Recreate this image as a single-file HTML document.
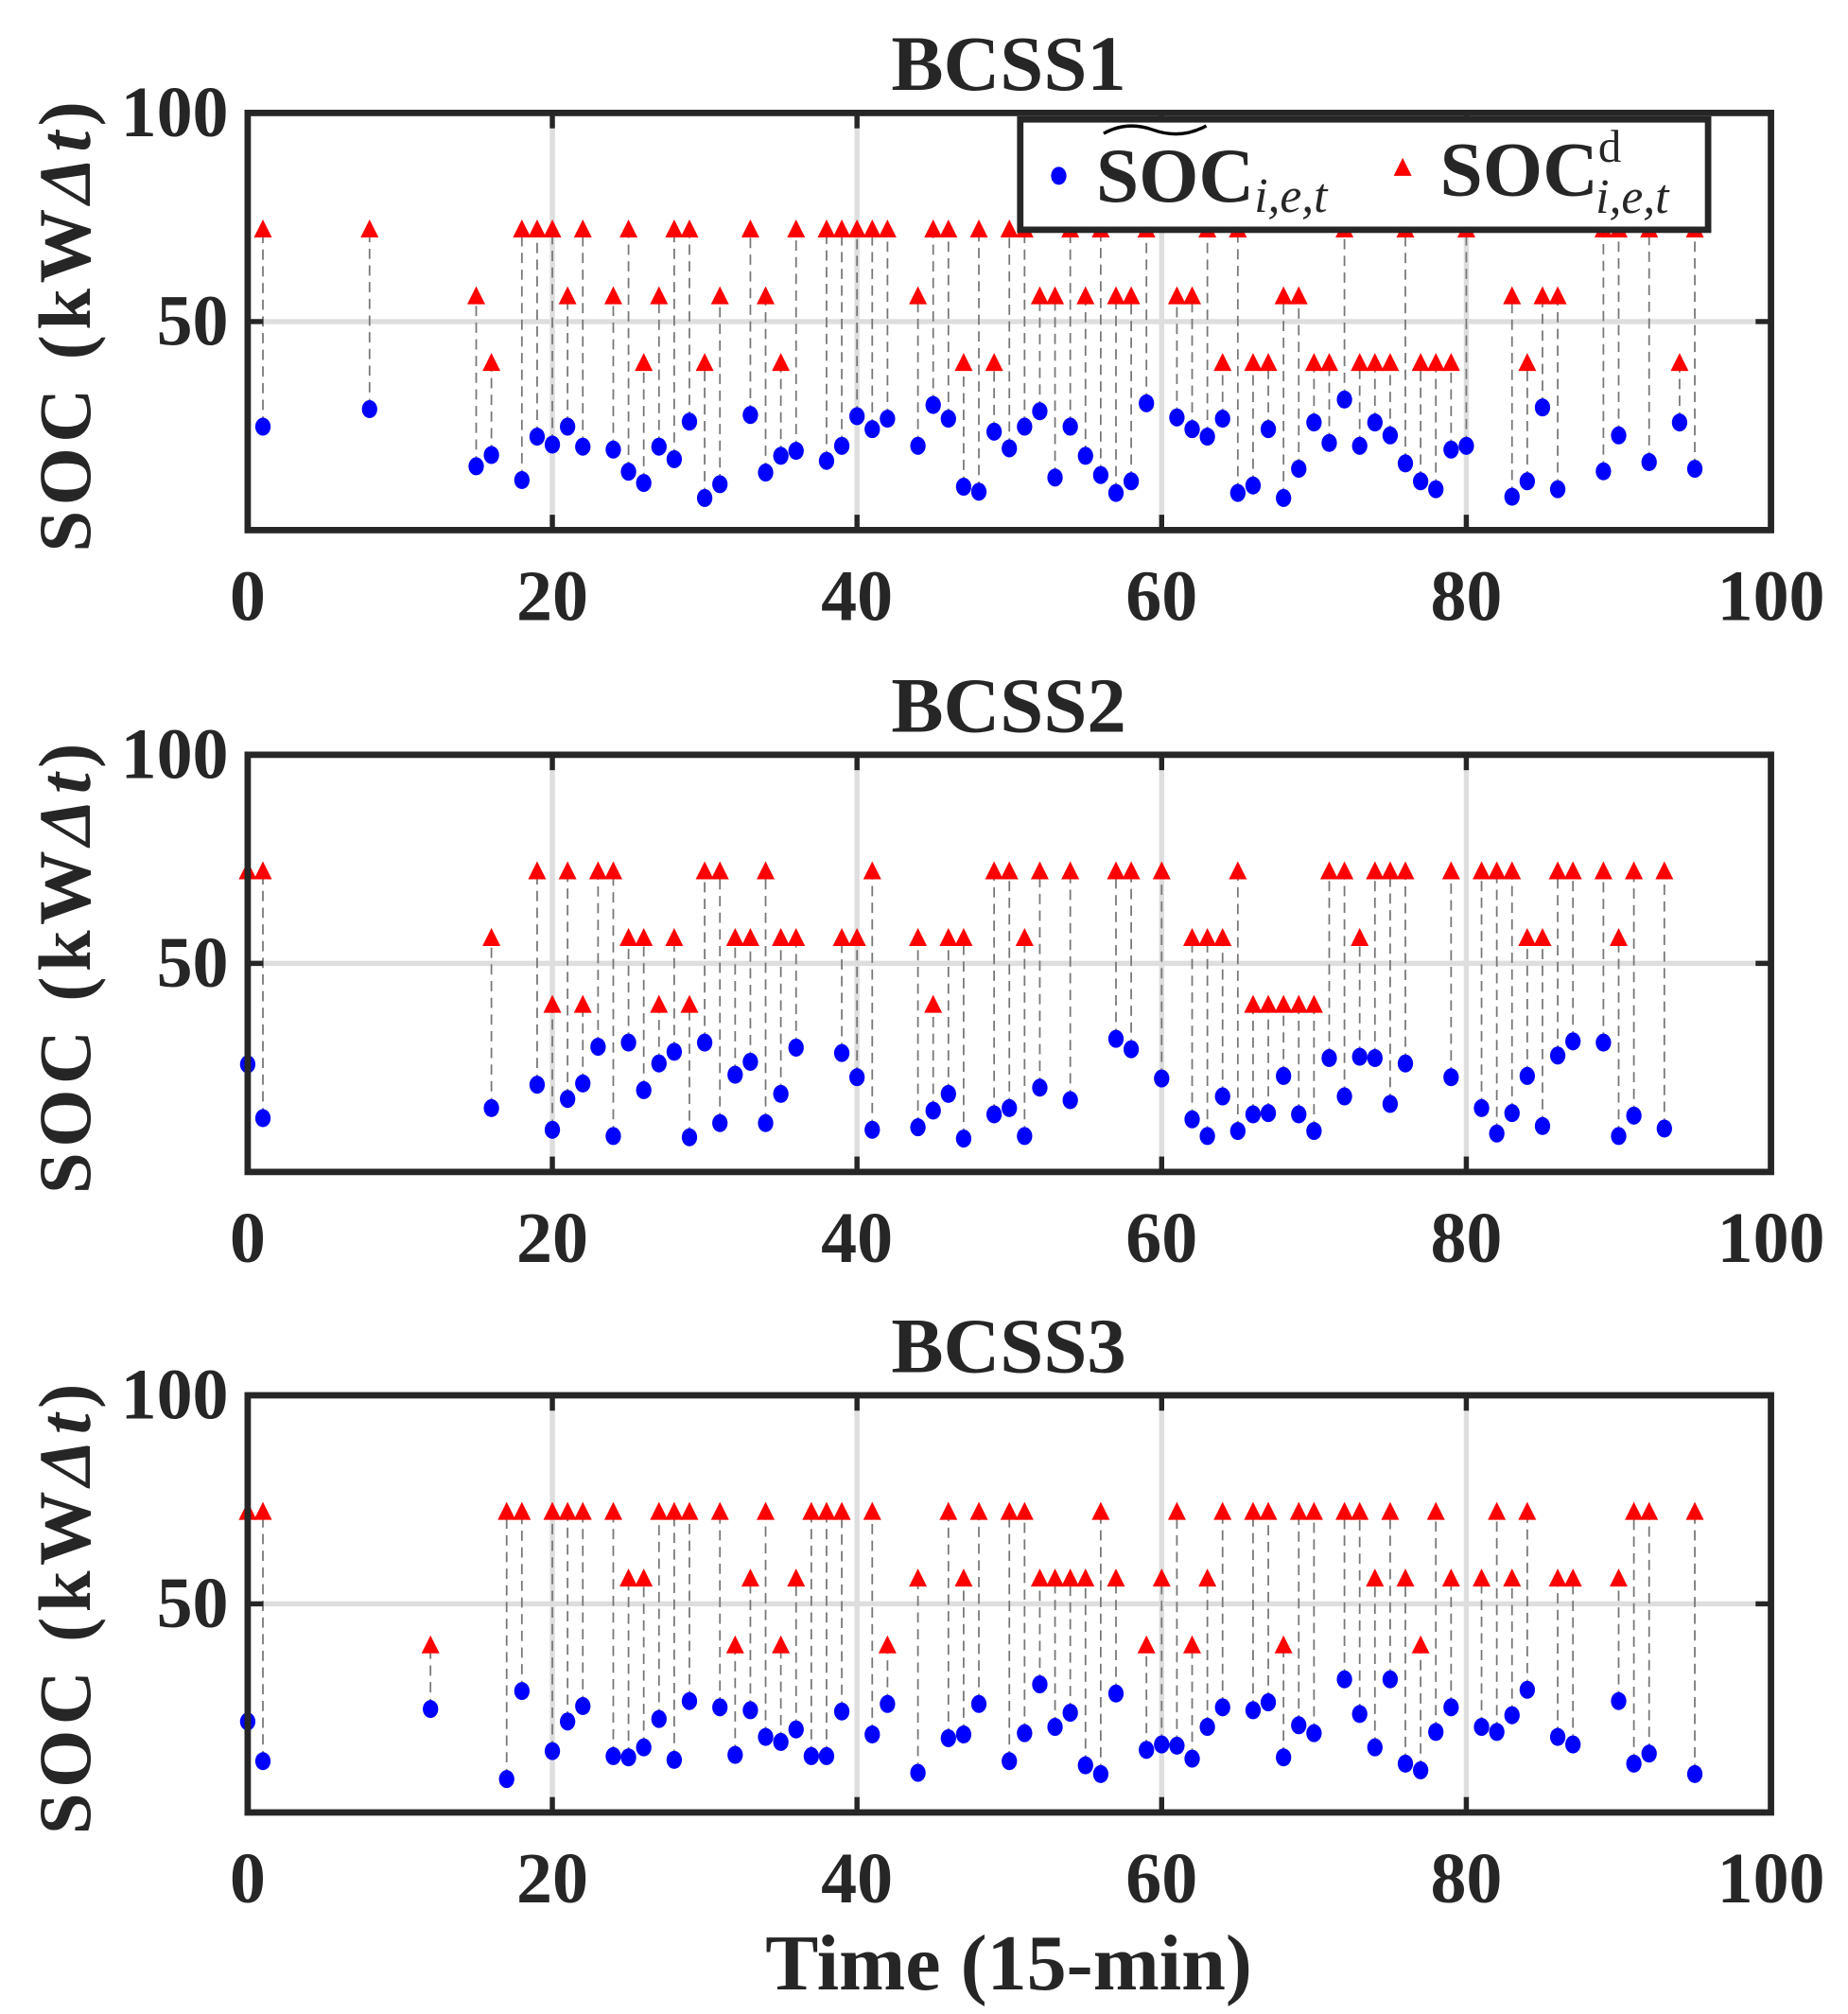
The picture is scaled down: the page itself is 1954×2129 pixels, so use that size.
<!DOCTYPE html>
<html><head><meta charset="utf-8"><style>
html,body{margin:0;padding:0;background:#fff;}
svg{display:block;}
text{font-family:"Liberation Serif",serif;font-weight:bold;fill:#262626;}
</style></head><body>
<svg id="chart" width="1954" height="2129" viewBox="0 0 1440 1569" xmlns="http://www.w3.org/2000/svg"></svg>
<script>
const xTicks=[0,20,40,60,80,100];
const yTicks=[50,100];
const titles=["BCSS1","BCSS2","BCSS3"];
const t1=[1,8,15,16,18,19,20,21,22,24,25,26,27,28,29,30,31,33,34,35,36,38,39,40,41,42,44,45,46,47,48,49,50,51,52,53,54,55,56,57,58,59,61,62,63,64,65,66,67,68,69,70,71,72,73,74,75,76,77,78,79,80,83,84,85,86,89,90,92,94,95];
const est1=[24.8,29,15.3,18,12,22.4,20.5,24.8,20,19.3,14,11.3,20,17,26,7.7,11,27.6,13.8,17.8,19,16.6,20.2,27.3,24.2,26.7,20.2,30,26.7,10.4,9.2,23.6,19.6,24.8,28.5,12.6,24.8,17.8,13.2,8.9,11.7,30.4,27,24.2,22.4,26.7,8.9,10.7,24.2,7.7,14.7,25.8,20.9,31.3,20.2,25.8,22.7,16,11.7,9.8,19.3,20.2,8,11.7,29.4,9.8,14.1,22.7,16.3,25.8,14.7];
const des1=[72,72,56,40,72,72,72,56,72,56,72,40,56,72,72,40,56,72,56,40,72,72,72,72,72,72,56,72,72,40,72,40,72,72,56,56,72,56,72,56,56,72,56,56,72,40,72,40,40,56,56,40,40,72,40,40,40,72,40,40,40,72,56,40,56,56,72,72,72,40,72];
const t2=[0,1,16,19,20,21,22,23,24,25,26,27,28,29,30,31,32,33,34,35,36,39,40,41,44,45,46,47,49,50,51,52,54,57,58,60,62,63,64,65,66,67,68,69,70,71,72,73,74,75,76,79,81,82,83,84,85,86,87,89,90,91,93];
const est2=[25.8,12.9,15.3,20.9,10.1,17.5,21.2,30,8.6,31,19.6,26,28.8,8.3,31,11.7,23.3,26.4,11.7,18.7,29.8,28.5,22.7,10.1,10.7,14.7,18.7,8,13.8,15.3,8.6,20.2,17.2,31.9,29.4,22.4,12.6,8.6,18.1,9.8,13.8,14.1,23,13.8,9.8,27.3,18.1,27.6,27.3,16.3,26,22.7,15.3,9.2,14.1,23,11,27.9,31.3,31,8.6,13.5,10.4];
const des2=[72,72,56,72,40,72,40,72,72,56,56,40,56,40,72,72,56,56,72,56,56,56,56,72,56,40,56,56,72,72,56,72,72,72,72,72,56,56,56,72,40,40,40,40,40,72,72,56,72,72,72,72,72,72,72,56,56,72,72,72,56,72,72];
const t3=[0,1,12,17,18,20,21,22,24,25,26,27,28,29,31,32,33,34,35,36,37,38,39,41,42,44,46,47,48,50,51,52,53,54,55,56,57,59,60,61,62,63,64,66,67,68,69,70,72,73,74,75,76,77,78,79,81,82,83,84,86,87,90,91,92,95];
const est3=[21.8,12.3,24.8,8,29.1,14.7,21.8,25.5,13.5,13.2,15.6,22.4,12.6,26.7,25.2,13.8,24.5,18.1,16.9,19.9,13.5,13.5,24.2,18.7,26,9.5,17.8,18.7,26,12.3,19,30.7,20.5,23.9,11.3,9.2,28.5,15,16.3,16,12.9,20.5,25.2,24.5,26.4,13.2,20.9,19,31.9,23.6,15.6,31.9,11.7,10.1,19.3,25.2,20.5,19.3,23.3,29.4,18.1,16.3,26.7,11.7,14.1,9.2];
const des3=[72,72,40,72,72,72,72,72,72,56,56,72,72,72,72,40,56,72,40,56,72,72,72,72,40,56,72,56,72,72,72,56,56,56,56,72,56,40,56,72,40,56,72,72,72,40,72,72,72,72,56,72,56,40,72,56,56,72,56,72,56,56,56,72,72,72];
const panels=[{top:88,t:t1,e:est1,d:des1},{top:588,t:t2,e:est2,d:des2},{top:1087,t:t3,e:est3,d:des3}];
const NS="http://www.w3.org/2000/svg";
const svg=document.getElementById('chart');
const L=193,R=1380,H=325;
function mk(tag,attrs,parent){const el=document.createElementNS(NS,tag);for(const k in attrs)el.setAttribute(k,attrs[k]);(parent||svg).appendChild(el);return el;}
panels.forEach((p,pi)=>{
  const g=mk('g',{});
  
  
  const xs=v=>L+(R-L)*v/100;
  const ys=v=>p.top+H-H*v/100;
  mk('rect',{x:L,y:p.top,width:R-L,height:H,fill:'#fff'},g);
  xTicks.slice(1,-1).forEach(v=>{const l=mk('line',{x1:xs(v),x2:xs(v),y1:p.top,y2:p.top+H,stroke:'#dedede','stroke-width':4},g);
    
    });
  const gl=mk('line',{x1:L,x2:R,y1:ys(50),y2:ys(50),stroke:'#dedede','stroke-width':4},g);
  
  
  p.t.forEach((tv,i)=>{
    const x=xs(tv),y1=ys(p.e[i]),y2=ys(p.d[i]);
    const s=mk('line',{x1:x,x2:x,y1:y1,y2:y2,stroke:'#777','stroke-width':1.3,'stroke-dasharray':'8,5'},g);
    
    
    const tr=mk('polygon',{points:`${x},${y2-8} ${x-7},${y2+6} ${x+7},${y2+6}`,fill:'#ff0000'},g);
    
    
    const c=mk('ellipse',{cx:x,cy:y1,rx:6,ry:7,fill:'#0000ff'},g);
    
    
  });
  xTicks.forEach(v=>{
    mk('line',{x1:xs(v),x2:xs(v),y1:p.top+H,y2:p.top+H-12,stroke:'#262626','stroke-width':4},g);
    mk('line',{x1:xs(v),x2:xs(v),y1:p.top,y2:p.top+12,stroke:'#262626','stroke-width':4},g);
    const tx=mk('text',{x:xs(v),y:p.top+H+70,'text-anchor':'middle','font-size':56},g);
    tx.textContent=v;
    
    
  });
  yTicks.forEach(v=>{
    mk('line',{x1:L,x2:L+12,y1:ys(v),y2:ys(v),stroke:'#262626','stroke-width':4},g);
    mk('line',{x1:R,x2:R-12,y1:ys(v),y2:ys(v),stroke:'#262626','stroke-width':4},g);
    const ty=mk('text',{x:L-15,y:ys(v)+18,'text-anchor':'end','font-size':56},g);
    ty.textContent=v;
    
    
  });
  mk('rect',{x:L,y:p.top,width:R-L,height:H,fill:'none',stroke:'#262626','stroke-width':5},g);
  const tt=mk('text',{x:786,y:p.top-18,'text-anchor':'middle','font-size':61},g);
  tt.textContent=titles[pi];
  
  
  const yl=mk('text',{x:0,y:0,'text-anchor':'middle','font-size':58,'letter-spacing':4,transform:`translate(70,${p.top+H/2+2}) rotate(-90)`},g);
  yl.innerHTML='SOC (kW<tspan font-style="italic">Δt</tspan>)';
  
  
});
const xl=mk('text',{x:786,y:1550,'text-anchor':'middle','font-size':62});
xl.textContent='Time (15-min)';


const lg=mk('g',{});


mk('rect',{x:795,y:93,width:536,height:86,fill:'#fff',stroke:'#262626','stroke-width':5},lg);
mk('ellipse',{cx:825,cy:137,rx:6,ry:7,fill:'#0000ff'},lg);
mk('path',{d:'M860 104 Q878 94 898 101 Q920 109 940 98',fill:'none',stroke:'#000','stroke-width':2.5},lg);
const l1=mk('text',{x:854,y:157,'font-size':60,fill:'#000'},lg);
l1.innerHTML='SOC<tspan font-size="38" font-style="italic" font-weight="normal" dy="8">i,e,t</tspan>';


mk('polygon',{points:'1093,123 1086,137 1100,137',fill:'#ff0000'},lg);
const l2=mk('text',{x:1122,y:152,'font-size':60,fill:'#000'},lg);
l2.innerHTML='SOC<tspan font-size="36" font-weight="normal" dy="-26">d</tspan><tspan font-size="38" font-style="italic" font-weight="normal" dx="-20" dy="40">i,e,t</tspan>';


</script>
</body></html>
